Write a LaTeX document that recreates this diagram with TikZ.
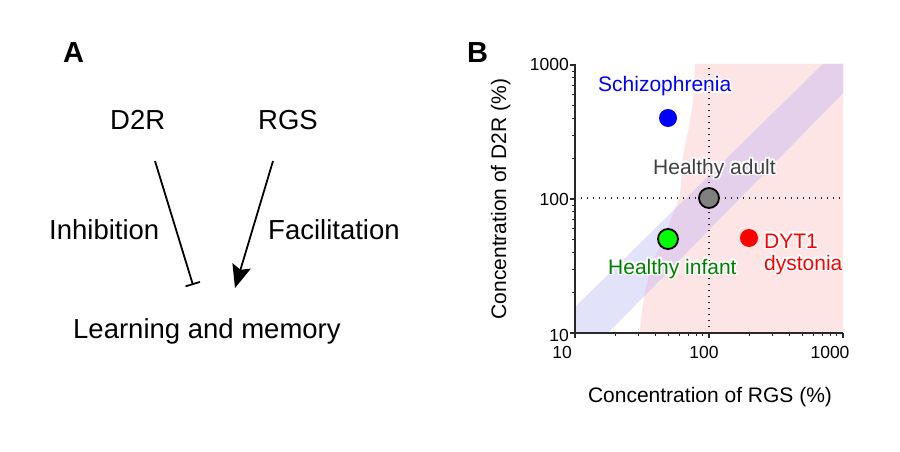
\documentclass[tikz,border=0pt]{standalone}
\usepackage{fontspec}
\setmainfont{Liberation Sans}
\usetikzlibrary{arrows.meta}
\definecolor{pinkreg}{RGB}{253,229,229}
\definecolor{blueband}{RGB}{226,226,250}
\definecolor{purpband}{RGB}{228,208,234}
\definecolor{adultgray}{RGB}{64,64,64}
\definecolor{infantgreen}{RGB}{0,128,0}
\definecolor{axiscol}{RGB}{40,40,40}
\newcommand{\hb}[3]{\makebox[0pt][l]{\kern#1\raisebox{#2}{\color{white}#3}}}
\newcommand{\halo}[1]{\hb{1.8pt}{0pt}{#1}\hb{-1.8pt}{0pt}{#1}\hb{0pt}{1.8pt}{#1}\hb{0pt}{-1.8pt}{#1}\hb{1.3pt}{1.3pt}{#1}\hb{-1.3pt}{1.3pt}{#1}\hb{1.3pt}{-1.3pt}{#1}\hb{-1.3pt}{-1.3pt}{#1}#1}
\begin{document}
\begin{tikzpicture}[x=1pt,y=-1pt,
  bigtxt/.style={font=\fontsize{27.5}{33}\selectfont, inner sep=0pt, anchor=base west},
  paneltxt/.style={font=\fontsize{29}{33}\selectfont\bfseries, inner sep=0pt, anchor=base west},
  plottxt/.style={font=\fontsize{21}{24}\selectfont, inner sep=0pt, anchor=base west},
  ticktxt/.style={font=\fontsize{17.5}{20}\selectfont, inner sep=0pt},
  axisline/.style={draw=axiscol, line width=1.3pt},
  guide/.style={draw=black!85, line width=1.4pt, dash pattern=on 1.4pt off 4.6pt},
  conn/.style={line width=1.8pt, draw=black},
  bigdot/.style={draw=black, line width=1.8pt}
]
\useasboundingbox (0,0) rectangle (900,452);
\fill[white] (0,0) rectangle (900,452);

% ---------- Panel A ----------
\node[paneltxt] (A) at (63,63) {A};
\node[bigtxt] (d2r) at (110,129) {D2R};
\node[bigtxt] (rgs) at (258,129) {RGS};
\node[bigtxt] (inh) at (49,239) {Inhibition};
\node[bigtxt] (fac) at (268,239) {Facilitation};
\node[bigtxt] (lm) at (73,338) {Learning and memory};
\coordinate (d2rs) at (155,161);
\coordinate (d2re) at (193,285);
\coordinate (rgss) at (273,161);
\coordinate (rgse) at (235,288);
\draw[conn, -{Bar[width=15pt,line width=1.8pt]}] (d2rs) -- (d2re);
\draw[conn, -{Stealth[length=23pt,width=19pt,inset=4pt]}] (rgss) -- (rgse);

% ---------- Panel B ----------
\node[paneltxt] (B) at (467,63) {B};

% regions
\def\pinkpath{(640,333) -- (641,318) -- (645,290) -- (653,262) -- (667,230) -- (680,196) -- (683,155) -- (688,132) -- (693,102) -- (695,64) -- (843,64) -- (843,333) -- cycle}
\def\bandpath{(575,307) -- (823,64) -- (843,64) -- (843,93) -- (608,333) -- (575,333) -- cycle}
\fill[pinkreg] \pinkpath;
\fill[blueband] \bandpath;
\begin{scope}
  \clip \pinkpath;
  \fill[purpband] \bandpath;
\end{scope}

% guides
\coordinate (vtop) at (709,64);
\coordinate (vbot) at (709,333);
\coordinate (hl) at (575,198);
\coordinate (hr) at (843,198);
\draw[guide] (vbot) -- (vtop);
\draw[guide] (hl) -- (hr);

% axes
\coordinate (org) at (575,333);
\coordinate (ytop) at (575,64);
\coordinate (xend) at (843,333);
\draw[axisline] (ytop) -- (org) -- (xend);
\foreach \d in {0,1,2} {
  \draw[axisline] ({575+134*\d},333) -- ++(0,5);
  \draw[axisline] (575,{333-134*\d}) -- ++(-5,0);
}
\foreach \d in {0,1} {
  \foreach \k in {2,...,9} {
    \draw[axisline, line width=1pt] ({575+134*(\d+log10(\k))},333) -- ++(0,3);
    \draw[axisline, line width=1pt] (575,{333-134*(\d+log10(\k))}) -- ++(-3,0);
  }
}

% tick labels
\node[ticktxt, anchor=east] (y1000) at (569,64) {1000};
\node[ticktxt, anchor=east] (y100) at (569,199) {100};
\node[ticktxt, anchor=east] (y10) at (569,335) {10};
\node[ticktxt, anchor=center] (x10) at (562,352) {10};
\node[ticktxt, anchor=center] (x100) at (704,352) {100};
\node[ticktxt, anchor=center] (x1000) at (830,352) {1000};

% axis labels
\node[font=\fontsize{21}{24}\selectfont, inner sep=0pt, anchor=base] (xlab) at (710,402) {Concentration of RGS (\%)};
\node[font=\fontsize{21}{24}\selectfont, inner sep=0pt, anchor=base, rotate=90] (ylab) at (506,199) {Concentration of D2R (\%)};

% data labels (with white halo)
\node[plottxt, text=blue] (schl) at (598,92) {\halo{Schizophrenia}};
\node[plottxt, text=adultgray] (adl) at (653,174) {\halo{Healthy adult}};
\node[plottxt, text=infantgreen] (infl) at (608,274) {\halo{Healthy infant}};
\node[plottxt, text=red] (dytl) at (764,248) {\halo{DYT1}};
\node[plottxt, text=red] (dysl) at (764,270) {\halo{dystonia}};

% data points
\fill[blue] (668,118) circle (9);
\fill[red] (749,238) circle (9);
\draw[bigdot, fill=black!50] (709,198) circle (10);
\draw[bigdot, fill=green] (668,239) circle (10);
\end{tikzpicture}
\end{document}
